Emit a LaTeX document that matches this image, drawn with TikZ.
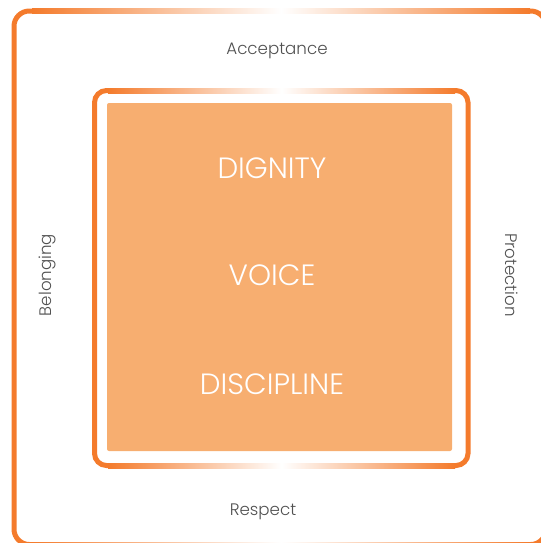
\documentclass[tikz,border=0pt]{standalone}
\usepackage{fontspec}
\setmainfont{Poppins}[UprightFont=* Light]
\definecolor{edgeorange}{HTML}{F47B2C}
\definecolor{fillorange}{HTML}{F7AE70}
\definecolor{labelgray}{HTML}{505050}
\tikzstyle{frame} = [draw=edgeorange, line width=3.75pt]
\tikzstyle{fade} = [left color=edgeorange, right color=edgeorange, middle color=white]
\tikzstyle{core} = [fill=fillorange, rounded corners=1.5pt]
\tikzstyle{coretext} = [text=white, font=\fontsize{22}{26}\selectfont]
\tikzstyle{sidetext} = [text=labelgray, font=\fontsize{12.5}{15}\selectfont]

\begin{document}
\begin{tikzpicture}[x=0.75pt, y=-0.75pt]
\useasboundingbox (0,0) rectangle (541,543);
\clip (0,0) rectangle (541,543);

% outer frame, runs past the right and bottom edges, faded at top and bottom
\draw[frame, rounded corners=11.5pt] (14,11) rectangle (546,544.5);
\shade[fade] (32,8.5) rectangle (530,13.5);
\shade[fade] (32,542) rectangle (530,547);

% inner frame, faded at top and bottom
\draw[frame, rounded corners=9pt] (94.5,90.5) rectangle (468,465.5);
\shade[fade] (108,88) rectangle (455,93);
\shade[fade] (108,463) rectangle (455,468);

% core square
\fill[core] (107,103) rectangle (452,451);
\node[coretext] (dignity) at (272,168) {DIGNITY};
\node[coretext] (voice) at (272,275) {VOICE};
\node[coretext] (discipline) at (272,384) {DISCIPLINE};

% outer labels
\node[sidetext] (acceptance) at (277,50.5) {Acceptance};
\node[sidetext] (respect) at (263,512) {Respect};
\node[sidetext, rotate=90] (belonging) at (47,275) {Belonging};
\node[sidetext, rotate=-90] (protection) at (512,275) {Protection};

\end{tikzpicture}
\end{document}
